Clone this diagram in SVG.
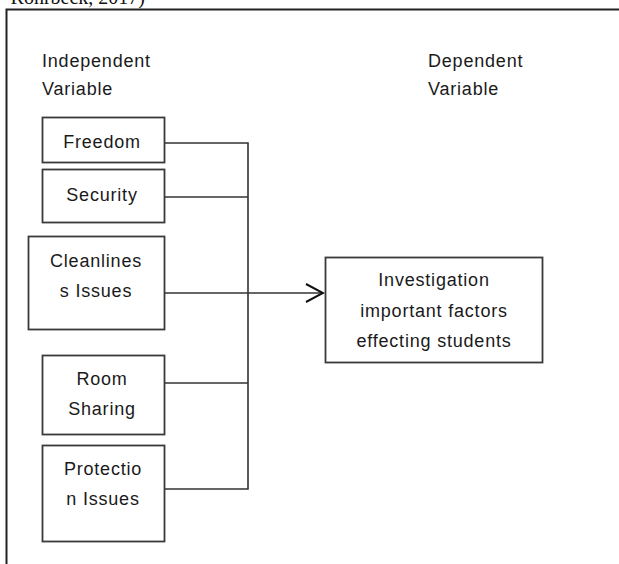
<svg xmlns="http://www.w3.org/2000/svg" width="619" height="564" viewBox="0 0 619 564">
<defs>
<style>
.t{font-family:"Liberation Sans",Arial,sans-serif;font-size:18px;letter-spacing:0.8px;fill:#1a1a1a}
.c{text-anchor:middle}
.box{fill:#fff;stroke:#3a3a3a;stroke-width:1.8}
.ln{fill:none;stroke:#333;stroke-width:1.6}
</style>
<marker id="chev" markerWidth="20" markerHeight="22" refX="18" refY="10" orient="auto" markerUnits="userSpaceOnUse">
<path d="M1,1 L18,10 L1,19" fill="none" stroke="#111" stroke-width="2"/>
</marker>
</defs>
<rect width="619" height="564" fill="#fff"/>
<text x="145" y="4" text-anchor="end" style="font-family:'Liberation Serif','Times New Roman',serif;font-size:20px;fill:#111">Rohrbeck, 2017)</text>
<g id="frame"><path d="M6.5,564 V9.5 H619" fill="none" stroke="#222" stroke-width="2"/></g>
<g id="labels">
<text class="t" x="42" y="67">Independent</text>
<text class="t" x="42" y="95">Variable</text>
<text class="t" x="428" y="67">Dependent</text>
<text class="t" x="428" y="95">Variable</text>
</g>
<g id="connectors">
<path class="ln" d="M164,143 H248 V489 H164"/>
<path class="ln" d="M164,197 H248"/>
<path class="ln" d="M164,383 H248"/>
<path class="ln" d="M164,293 H323" marker-end="url(#chev)"/>
</g>
<g id="freedom"><rect class="box" x="42.5" y="117.5" width="122" height="45"/><text class="t c" x="102" y="148">Freedom</text></g>
<g id="security"><rect class="box" x="42.5" y="169.5" width="122" height="53"/><text class="t c" x="102" y="201">Security</text></g>
<g id="cleanliness"><rect class="box" x="28.5" y="236.5" width="136" height="93"/><text class="t c" x="96" y="267">Cleanlines</text><text class="t c" x="96" y="297">s Issues</text></g>
<g id="room"><rect class="box" x="42.5" y="355.5" width="122" height="79"/><text class="t c" x="102" y="385">Room</text><text class="t c" x="102" y="415">Sharing</text></g>
<g id="protection"><rect class="box" x="42.5" y="445.5" width="122" height="96"/><text class="t c" x="103" y="475">Protectio</text><text class="t c" x="103" y="505">n Issues</text></g>
<g id="investigation"><rect class="box" x="325.5" y="257.5" width="217" height="105"/><text class="t c" x="434" y="286">Investigation</text><text class="t c" x="434" y="317">important factors</text><text class="t c" x="434" y="347">effecting students</text></g>
</svg>
